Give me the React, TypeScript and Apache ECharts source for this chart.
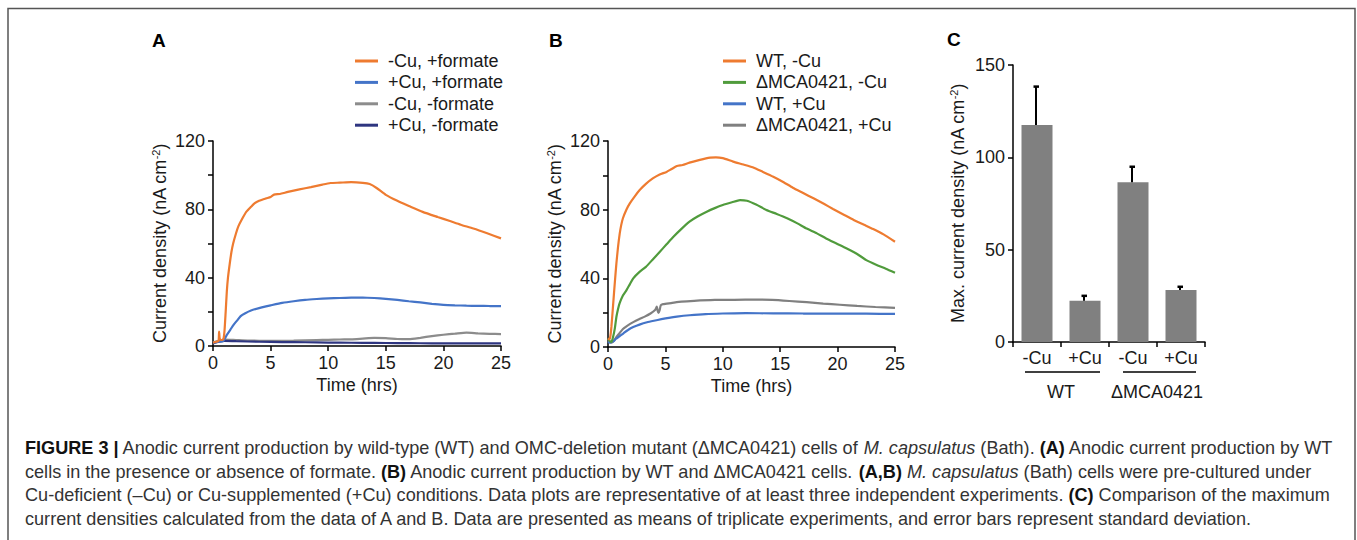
import React, { useEffect, useRef } from "react";
import * as echarts from "echarts";

const FONT = "'Liberation Sans', Arial, sans-serif";

// Panel A
const namesA = ["-Cu, +formate", "+Cu, +formate", "-Cu, -formate", "+Cu, -formate"];
const colorsA = ["#EE7B30", "#4474C8", "#8C8C8C", "#2E3580"];
const tA1 = [0, 0.3, 0.48, 0.53, 0.58, 0.7, 0.9, 1.0, 1.1, 1.2, 1.3, 1.45, 1.6, 1.75, 2.0, 2.2, 2.5, 2.9, 3.3, 3.6, 4.0, 4.6, 5.0, 5.3, 5.8, 6.5, 7.5, 8.5, 9.5, 10.2, 11.0, 12.0, 13.0, 13.6, 14.2, 15.0, 16.0, 17.0, 18.2, 19.5, 20.5, 21.5, 22.6, 23.8, 25];
const vA1 = [2, 2.5, 3, 8.4, 4.5, 3.5, 4, 9, 20, 32, 40, 48, 55, 60, 66, 70, 74, 78.6, 81.5, 83.5, 85, 86.4, 87.2, 88.6, 89, 90.2, 91.7, 93, 94.5, 95.4, 95.6, 95.9, 95.5, 94.8, 92.5, 88.5, 85, 82, 78.5, 75.5, 73.3, 71, 68.8, 66, 63];
const tA2 = [0, 0.5, 0.85, 1.0, 1.2, 1.5, 1.8, 2.1, 2.4, 2.8, 3.3, 4.0, 4.6, 5.0, 6.0, 7.0, 8.0, 9.0, 10.0, 11.0, 12.0, 13.0, 14.0, 15.0, 16.0, 17.0, 18.0, 19.0, 20.0, 21.0, 22.0, 23.0, 24.0, 25];
const vA2 = [2, 2.5, 2.8, 4, 6.5, 9.5, 12.5, 15, 17.5, 19.2, 20.8, 22.2, 23.2, 23.8, 25.2, 26.2, 27, 27.5, 27.9, 28.1, 28.3, 28.4, 28.1, 27.6, 27.0, 26.2, 25.5, 24.7, 24.1, 23.8, 23.6, 23.5, 23.4, 23.4];
const tA3 = [0, 0.5, 1, 2, 3, 5, 7, 9, 10, 11, 12, 13, 14, 15, 16, 17, 18, 19, 20, 21, 22, 23, 24, 25];
const vA3 = [2, 3, 3.8, 3.5, 3.2, 3.0, 3.2, 3.5, 3.6, 3.8, 3.9, 4.3, 4.7, 4.6, 4.1, 4.0, 4.8, 5.8, 6.6, 7.2, 7.8, 7.4, 7.1, 7.0];
const tA4 = [0, 0.5, 1, 2, 4, 6, 8, 10, 12, 14, 16, 18, 20, 22, 25];
const vA4 = [1.5, 2.5, 3, 2.8, 2.5, 2.3, 2.2, 2.0, 1.9, 1.8, 1.7, 1.6, 1.5, 1.5, 1.5];

// Panel B
const namesB = ["WT, -Cu", "\u0394MCA0421, -Cu", "WT, +Cu", "\u0394MCA0421, +Cu"];
const colorsB = ["#EE7B30", "#509B3C", "#4474C8", "#808080"];
const tB1 = [0, 0.1, 0.2, 0.3, 0.45, 0.6, 0.73, 0.87, 1.02, 1.15, 1.3, 1.6, 1.9, 2.3, 2.76, 3.3, 3.9, 4.5, 5.1, 5.5, 6.0, 6.5, 7.1, 8.0, 8.9, 9.4, 10.0, 10.9, 11.8, 12.6, 13.5, 14.4, 15.3, 16.1, 17.0, 17.9, 18.8, 19.6, 20.5, 21.4, 22.3, 23.1, 24.0, 25];
const vB1 = [5, 4.5, 6, 12, 25, 38, 48.6, 58, 66, 71, 75, 80, 83.7, 87.5, 91.4, 95, 98.2, 100.5, 102, 103.5, 105.4, 106, 107.4, 109, 110.3, 110.5, 110, 108, 106.3, 104.7, 102, 99.2, 96, 92.8, 89.7, 86.6, 83.4, 80.4, 77.2, 74, 71.2, 68.7, 65.6, 61.3];
const tB2 = [0, 0.15, 0.3, 0.44, 0.6, 0.73, 0.87, 1.0, 1.3, 1.6, 1.9, 2.2, 2.7, 3.3, 3.9, 4.5, 5.1, 5.7, 6.4, 7.1, 7.8, 8.6, 9.3, 10.0, 10.8, 11.5, 12.1, 12.9, 13.8, 14.7, 15.6, 16.5, 17.3, 18.2, 19.0, 19.9, 20.8, 21.7, 22.5, 23.4, 24.2, 25];
const vB2 = [5, 3.5, 3, 5.8, 11, 17.5, 22, 25.3, 30, 33, 36.5, 40, 43.5, 46.7, 51, 55.4, 59.8, 64.2, 68.8, 73, 76, 78.8, 80.9, 82.7, 84.3, 85.6, 85.2, 83, 79.8, 77.5, 75, 72, 69, 66.2, 63.2, 60.3, 57.4, 54.2, 50.6, 47.8, 45.6, 43.2];
const tB3 = [0, 0.15, 0.3, 0.5, 0.7, 1.0, 1.35, 1.74, 2.2, 2.8, 3.4, 4.0, 4.65, 5.3, 6.0, 7.1, 8.5, 10, 12, 14.4, 17, 20, 22.5, 25];
const vB3 = [3, 2.5, 2.9, 3.5, 4.8, 6.2, 8, 9.9, 11.6, 13.2, 14.4, 15.3, 16.2, 17, 17.7, 18.5, 19.2, 19.5, 19.7, 19.6, 19.5, 19.5, 19.4, 19.3];
const tB4 = [0, 0.15, 0.3, 0.5, 0.7, 1.0, 1.3, 1.7, 2.2, 2.7, 3.2, 3.7, 4.1, 4.25, 4.33, 4.4, 4.5, 4.6, 4.8, 5.5, 6.4, 7.5, 9.3, 11, 12.9, 14.3, 15.8, 17.3, 18.75, 20.2, 21.7, 23.3, 25];
const vB4 = [4, 3, 2.5, 3.5, 5.5, 8, 10.5, 12.5, 14.5, 16.2, 17.7, 19.5, 21.5, 23.5, 21, 19.8, 21.5, 24.3, 25, 25.6, 26.4, 26.9, 27.4, 27.5, 27.6, 27.4, 26.8, 26.1, 25.3, 24.6, 23.9, 23.3, 22.8];

// Panel C
const catsC = ["-Cu", "+Cu", "-Cu", "+Cu"];
const groupsC = ["WT", "\u0394MCA0421"];
const meansC = [117.5, 22.4, 86.5, 28.2];
const sdC = [20.8, 2.6, 8.4, 1.7];

const ticksA = [0, 40, 80, 120];

const caption = [
  "{b|FIGURE 3 |} Anodic current production by wild-type (WT) and OMC-deletion mutant (\u0394MCA0421) cells of {i|M. capsulatus} (Bath). {b|(A)} Anodic current production by WT",
  "cells in the presence or absence of formate. {b|(B)} Anodic current production by WT and \u0394MCA0421 cells. {b|(A,B)} {i|M. capsulatus} (Bath) cells were pre-cultured under",
  "Cu-deficient (\u2013Cu) or Cu-supplemented (+Cu) conditions. Data plots are representative of at least three independent experiments. {b|(C)} Comparison of the maximum",
  "current densities calculated from the data of A and B. Data are presented as means of triplicate experiments, and error bars represent standard deviation.",
];

const pairs = (t: number[], v: number[]) => t.map((x, i) => [x, v[i]]);

const TXT = "#1a1a1a";
const CAP = 18.1;
const axisLineStyle = { color: "#000", width: 1.5 };
const labelStyle = { fontSize: 18, fontFamily: FONT, color: TXT };
const nameRich = {
  fontSize: 18,
  fontFamily: FONT,
  color: TXT,
  rich: { sup: { fontSize: 11, fontFamily: FONT, color: TXT, padding: [0, 0, 9, 0] } },
};

function lineSeries(name: string, color: string, data: number[][], idx: number) {
  return {
    type: "line",
    name,
    xAxisIndex: idx,
    yAxisIndex: idx,
    data,
    showSymbol: false,
    symbol: "none",
    smooth: 0.2,
    color,
    lineStyle: { width: 2.2, color },
    itemStyle: { color },
  };
}

function valueXAxis(gridIndex: number) {
  return {
    type: "value",
    gridIndex,
    min: 0,
    max: 25,
    interval: 5,
    axisLine: { show: true, lineStyle: axisLineStyle },
    axisTick: { show: true, length: 5, lineStyle: axisLineStyle },
    axisLabel: { ...labelStyle, margin: 8 },
    splitLine: { show: false },
    name: "Time (hrs)",
    nameLocation: "middle",
    nameGap: 30,
    nameTextStyle: labelStyle,
  };
}

function valueYAxis(gridIndex: number) {
  return {
    type: "value",
    gridIndex,
    min: 0,
    max: 120,
    interval: 20,
    axisLine: { show: true, lineStyle: axisLineStyle },
    axisTick: { show: true, length: 5, lineStyle: axisLineStyle },
    axisLabel: {
      ...labelStyle,
      margin: 8,
      formatter: (v: number) => (ticksA.includes(v) ? String(v) : ""),
    },
    splitLine: { show: false },
    name: "Current density (nA cm{sup|-2})",
    nameLocation: "middle",
    nameGap: 43,
    nameTextStyle: nameRich,
  };
}

export default function App() {
  const ref = useRef<HTMLDivElement>(null);
  useEffect(() => {
    if (!ref.current) return;
    const chart = echarts.init(ref.current, undefined, { renderer: "svg" });
    const legendBase = {
      orient: "vertical",
      icon: "rect",
      itemWidth: 23,
      itemHeight: 3,
      itemGap: 3.4,
      textStyle: { fontSize: 18, fontFamily: FONT, color: TXT, padding: [0, 0, 0, 5] },
    };
    const captionGraphics = caption.map((line, i) => ({
      type: "text",
      x: 25,
      y: 448 + i * 23.6,
      silent: true,
      style: {
        text: line,
        fontSize: CAP,
        fontFamily: FONT,
        fill: "#333",
        verticalAlign: "middle",
        align: "left",
        rich: {
          b: { fontSize: CAP, fontFamily: FONT, fontWeight: "bold", fill: "#111", color: "#111" },
          i: { fontSize: CAP, fontFamily: FONT, fontStyle: "italic", fill: "#333", color: "#333" },
        },
      },
    }));
    const letter = (t: string, x: number, y: number) => ({
      type: "text",
      x,
      y,
      silent: true,
      style: { text: t, fontSize: 19, fontWeight: "bold", fontFamily: FONT, fill: "#000", verticalAlign: "middle" },
    });
    const option = {
      animation: false,
      backgroundColor: "#fff",
      grid: [
        { left: 213, top: 141, width: 288, height: 205 },
        { left: 608, top: 141, width: 287, height: 206 },
        { left: 1013, top: 65, width: 192, height: 277 },
      ],
      legend: [
        { ...legendBase, data: namesA, left: 350, top: 47 },
        { ...legendBase, data: namesB, left: 718, top: 47 },
      ],
      xAxis: [
        valueXAxis(0),
        valueXAxis(1),
        {
          type: "category",
          gridIndex: 2,
          data: catsC,
          position: "bottom",
          axisLine: { show: true, lineStyle: axisLineStyle },
          axisTick: { show: true, length: 5, lineStyle: axisLineStyle, alignWithLabel: false },
          axisLabel: { ...labelStyle, margin: 7, interval: 0 },
          splitLine: { show: false },
        },
        {
          type: "category",
          gridIndex: 2,
          data: groupsC,
          position: "bottom",
          axisLine: { show: false },
          axisTick: { show: false },
          axisLabel: { ...labelStyle, margin: 41, interval: 0, hideOverlap: false },
          splitLine: { show: false },
        },
      ],
      yAxis: [
        valueYAxis(0),
        valueYAxis(1),
        {
          type: "value",
          gridIndex: 2,
          min: 0,
          max: 150,
          interval: 50,
          axisLine: { show: true, lineStyle: axisLineStyle },
          axisTick: { show: true, length: 5, lineStyle: axisLineStyle },
          axisLabel: { ...labelStyle, margin: 8 },
          splitLine: { show: false },
          name: "Max. current density (nA cm{sup|-2})",
          nameLocation: "middle",
          nameGap: 45,
          nameTextStyle: nameRich,
        },
      ],
      series: [
        lineSeries(namesA[2], colorsA[2], pairs(tA3, vA3), 0),
        lineSeries(namesA[3], colorsA[3], pairs(tA4, vA4), 0),
        lineSeries(namesA[1], colorsA[1], pairs(tA2, vA2), 0),
        lineSeries(namesA[0], colorsA[0], pairs(tA1, vA1), 0),
        lineSeries(namesB[3], colorsB[3], pairs(tB4, vB4), 1),
        lineSeries(namesB[2], colorsB[2], pairs(tB3, vB3), 1),
        lineSeries(namesB[1], colorsB[1], pairs(tB2, vB2), 1),
        lineSeries(namesB[0], colorsB[0], pairs(tB1, vB1), 1),
        {
          type: "bar",
          name: "max",
          xAxisIndex: 2,
          yAxisIndex: 2,
          data: meansC,
          barWidth: 31,
          itemStyle: { color: "#808080" },
        },
        {
          type: "custom",
          name: "sd",
          xAxisIndex: 2,
          yAxisIndex: 2,
          data: meansC.map((m, i) => [i, m, sdC[i]]),
          encode: { x: 0, y: 1 },
          z: 5,
          renderItem: (params: any, api: any) => {
            const base = api.coord([api.value(0), api.value(1)]);
            const top = api.coord([api.value(0), api.value(1) + api.value(2)]);
            return {
              type: "group",
              children: [
                { type: "line", shape: { x1: base[0] - 1, y1: base[1], x2: base[0] - 1, y2: top[1] }, style: { stroke: "#000", lineWidth: 2 } },
                { type: "line", shape: { x1: base[0] - 3.5, y1: top[1], x2: base[0] + 2, y2: top[1] }, style: { stroke: "#000", lineWidth: 2.5 } },
              ],
            };
          },
        },
      ],
      graphic: [
        {
          type: "rect",
          silent: true,
          shape: { x: 8, y: 8.5, width: 1347, height: 600 },
          style: { fill: "none", stroke: "#555", lineWidth: 1.5 },
        },
        letter("A", 152, 40),
        letter("B", 549, 40),
        letter("C", 947, 39),
        { type: "line", silent: true, shape: { x1: 1025, y1: 372, x2: 1100, y2: 372 }, style: { stroke: "#000", lineWidth: 1.5 } },
        { type: "line", silent: true, shape: { x1: 1123, y1: 372, x2: 1196, y2: 372 }, style: { stroke: "#000", lineWidth: 1.5 } },
        ...captionGraphics,
      ],
    };
    chart.setOption(option as any);
    return () => chart.dispose();
  }, []);
  return (
    <div
      ref={ref}
      style={{ position: "absolute", left: 0, top: 0, width: 1357, height: 540 }}
    />
  );
}
